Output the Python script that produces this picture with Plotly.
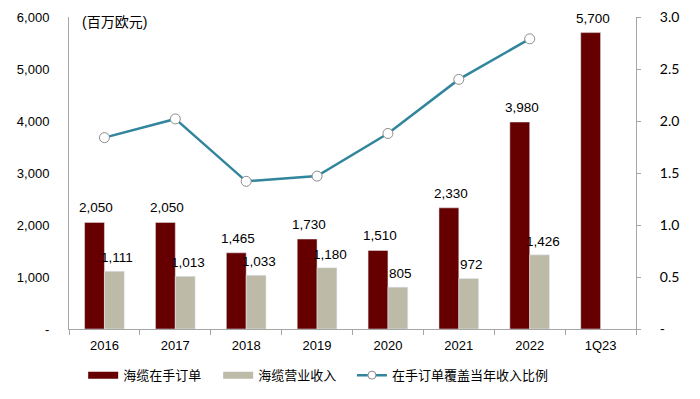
import plotly.graph_objects as go

categories = ["2016", "2017", "2018", "2019", "2020", "2021", "2022", "1Q23"]
backlog = [2050, 2050, 1465, 1730, 1510, 2330, 3980, 5700]
revenue = [1111, 1013, 1033, 1180, 805, 972, 1426, None]
coverage = [1.84, 2.02, 1.42, 1.47, 1.88, 2.40, 2.79, None]

backlog_labels = ["2,050", "2,050", "1,465", "1,730", "1,510", "2,330", "3,980", "5,700"]
revenue_labels = ["1,111", "1,013", "1,033", "1,180", "805", "972", "1,426", ""]

left_ticks = [0, 1000, 2000, 3000, 4000, 5000, 6000]
left_ticktext = ["-", "1,000", "2,000", "3,000", "4,000", "5,000", "6,000"]
right_ticks = [0, 0.5, 1.0, 1.5, 2.0, 2.5, 3.0]
right_ticktext = ["-", "0.5", "1.0", "1.5", "2.0", "2.5", "3.0"]

names = ["海缆在手订单", "海缆营业收入", "在手订单覆盖当年收入比例"]
unit_text = "(百万欧元)"

FONT = "Liberation Sans, Noto Sans CJK SC, sans-serif"
DARK = "#660000"
LIGHT = "#BDBAA8"
TEAL = "#31859C"

fig = go.Figure()
fig.add_trace(go.Bar(x=categories, y=backlog, name=names[0], marker_color=DARK, showlegend=False))
fig.add_trace(go.Bar(x=categories, y=revenue, name=names[1], marker_color=LIGHT, showlegend=False))
fig.add_trace(go.Scatter(
    x=categories, y=coverage, name=names[2], yaxis="y2", mode="lines+markers",
    line=dict(color=TEAL, width=2.5),
    marker=dict(size=10, color="white", line=dict(color="#8C8C8C", width=1)),
    cliponaxis=False, showlegend=False,
))

# legend-only entries
fig.add_trace(go.Scatter(x=[categories[0]], y=[None], mode="lines", name=names[0],
                         line=dict(color=DARK, width=7), legend="legend"))
fig.add_trace(go.Scatter(x=[categories[0]], y=[None], mode="lines", name=names[1],
                         line=dict(color=LIGHT, width=7), legend="legend"))
fig.add_trace(go.Scatter(x=[categories[0]], y=[None], mode="lines+markers", name=names[2],
                         line=dict(color=TEAL, width=2.5), legend="legend2",
                         marker=dict(size=8, color="white", line=dict(color="#8C8C8C", width=1))))

annotations = []
for i, (v, t) in enumerate(zip(backlog, backlog_labels)):
    annotations.append(dict(x=i, y=v, xref="x", yref="y", text=t, showarrow=False,
                            xanchor="center", yanchor="bottom", xshift=-8, yshift=5,
                            font=dict(size=13.5, family=FONT, color="#000000")))
for i, (v, t) in enumerate(zip(revenue, revenue_labels)):
    if v is None:
        continue
    annotations.append(dict(x=i, y=v, xref="x", yref="y", text=t, showarrow=False,
                            xanchor="center", yanchor="bottom", xshift=13, yshift=4,
                            font=dict(size=13.5, family=FONT, color="#000000")))
annotations.append(dict(
    text=unit_text, xref="paper", yref="paper", x=0.02, y=1.0, yshift=-5,
    xanchor="left", yanchor="middle", showarrow=False,
    font=dict(size=14, family=FONT),
))

legend_common = dict(orientation="h", yanchor="top", y=-0.10, xanchor="left",
                     font=dict(size=13, family=FONT), itemwidth=30, traceorder="normal",
                     bgcolor="rgba(0,0,0,0)")

fig.update_layout(
    width=700, height=399,
    margin=dict(l=69, r=64, t=17, b=70, autoexpand=False),
    plot_bgcolor="white", paper_bgcolor="white",
    barmode="group", bargap=0.44, bargroupgap=0,
    font=dict(family=FONT, size=13, color="#000000"),
    showlegend=True,
    legend=dict(legend_common, x=0.025, entrywidth=90),
    legend2=dict(legend_common, x=0.499),
    xaxis=dict(
        type="category", categoryorder="array", categoryarray=categories,
        range=[-0.5, len(categories) - 0.5],
        showline=True, linecolor="#A6A6A6", linewidth=1,
        ticks="outside", tickson="boundaries", ticklen=5, tickcolor="#A6A6A6",
        tickfont=dict(size=13), showgrid=False, ticklabelstandoff=4,
    ),
    yaxis=dict(
        range=[0, 6000], tickvals=left_ticks, ticktext=left_ticktext,
        showline=True, linecolor="#A6A6A6", linewidth=1, showgrid=False,
        zeroline=False, ticks="", ticklabelstandoff=16, tickfont=dict(size=13),
    ),
    yaxis2=dict(
        range=[0, 3], tickvals=right_ticks, ticktext=right_ticktext,
        overlaying="y", side="right", showline=True, linecolor="#A6A6A6", linewidth=1,
        showgrid=False, zeroline=False, ticks="outside", ticklen=4, tickcolor="#A6A6A6",
        ticklabelstandoff=16,
        tickfont=dict(size=14, family="Lato, Liberation Sans, sans-serif"),
    ),
    annotations=annotations,
)

fig.write_html("out.html", config={"displayModeBar": False},
               post_script="document.body.style.margin='0';")
